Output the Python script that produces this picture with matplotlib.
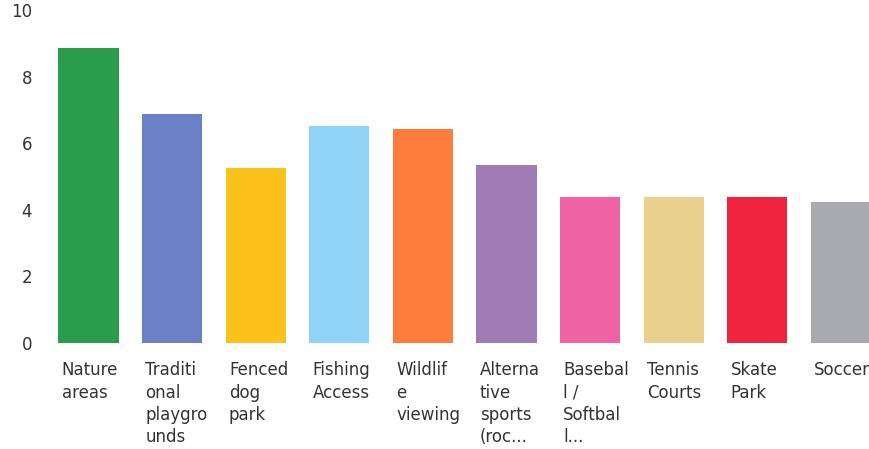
import matplotlib.pyplot as plt
import numpy as np

labels = ['Nature\nareas', 'Traditi\nonal\nplaygro\nunds', 'Fenced\ndog\npark',
          'Fishing\nAccess', 'Wildlif\ne\nviewing', 'Alterna\ntive\nsports\n(roc...',
          'Basebal\nl /\nSoftbal\nl...', 'Tennis\nCourts', 'Skate\nPark', 'Soccer']
values = [8.87, 6.88, 5.26, 6.52, 6.42, 5.35, 4.39, 4.39, 4.38, 4.22]
colors = ['#2a9d4c', '#6b80c6', '#fcc21c', '#8fd3f7', '#ff7d3c',
          '#a07bb6', '#ef62a3', '#e9d08c', '#f1243f', '#a8aab0']
yticks = [0, 2, 4, 6, 8, 10]

fig = plt.figure(figsize=(8.69, 4.49), dpi=100)
ax = fig.add_axes([46.7/869, 106/449, 836/869, 333/449])

x = np.arange(len(values))
ax.bar(x, values, width=0.72, color=colors)

ax.set_xlim(-0.5, 9.5)
ax.set_ylim(0, 10)
ax.set_yticks(yticks)
ax.tick_params(axis='y', length=0, pad=10.5, labelsize=12, labelcolor='#333333')
ax.set_xticks([])
for s in ax.spines.values():
    s.set_visible(False)

# wrapped category labels, left aligned under each bar
for i, lab in enumerate(labels):
    ax.text(i - 0.36 + 0.04, -0.55, lab, ha='left', va='top', fontsize=12,
            family='DejaVu Sans', color='#333333', linespacing=1.31)

fig.savefig('out.png', dpi=100)
